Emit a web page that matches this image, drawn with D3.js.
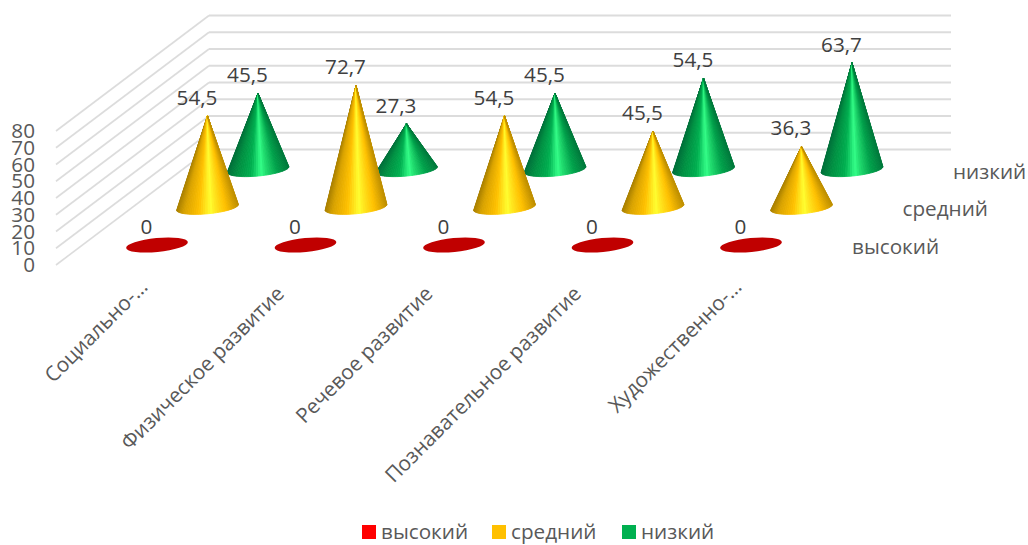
<!DOCTYPE html>
<html>
<head>
<meta charset="utf-8">
<script src="https://cdn.jsdelivr.net/npm/d3@7"></script>
<style>
  html, body { margin: 0; padding: 0; background: #fff; }
  text { font-family: "Open Sans", sans-serif; }
</style>
</head>
<body>
<div id="chart"></div>
<script>
var categories = ["Социально-…", "Физическое развитие", "Речевое развитие", "Познавательное развитие", "Художественно-…"];
var seriesNames = ["высокий", "средний", "низкий"];
var vysokiy = [0, 0, 0, 0, 0];
var sredniy = [54.5, 72.7, 54.5, 45.5, 36.3];
var nizkiy = [45.5, 27.3, 45.5, 54.5, 63.7];
var valueTicks = [0, 10, 20, 30, 40, 50, 60, 70, 80];
var legendColors = ["#ff0000", "#ffc000", "#00b050"];

var width = 1028, height = 545, fontSize = "20.7px";

var svg = d3.select("#chart").append("svg")
    .attr("width", width)
    .attr("height", height)
    .style("display", "block");

// category position along the floor (front row, red discs)
var x = d3.scalePoint().domain(categories).range([157, 751]);
// value goes straight up the screen
var y = d3.scaleLinear().domain([0, 80]).range([0, -134]);
// depth of each series on the floor
var depthX = d3.scalePoint().domain(seriesNames).range([0, 101]);
var depthY = d3.scalePoint().domain(seriesNames).range([245, 169.5]);

// colours across a cone, 0 = left edge, 1 = right edge
var shade = {
  "средний": d3.scaleLinear().domain([0, .12, .35, .55, .62, .8, 1])
    .range(["#a98000", "#d9a300", "#ffc000", "#ffff30", "#ffe820", "#ffc000", "#c09000"]),
  "низкий": d3.scaleLinear().domain([0, .15, .38, .55, .62, .82, 1])
    .range(["#00703a", "#008f42", "#00b050", "#33ff88", "#22e070", "#00a04a", "#007a3c"])
};

var grid = svg.append("g").attr("stroke", "#dcdcdc").attr("fill", "none");
grid.selectAll(".side").data(valueTicks).enter().append("line")
    .attr("stroke-width", 1.6)
    .attr("x1", 56).attr("x2", 209)
    .attr("y1", function(d) { return 265 + y(d); })
    .attr("y2", function(d) { return 149.5 + y(d); });
grid.selectAll(".back").data(valueTicks).enter().append("line")
    .attr("stroke-width", 2)
    .attr("x1", 209).attr("x2", 951)
    .attr("y1", function(d) { return 149.5 + y(d); })
    .attr("y2", function(d) { return 149.5 + y(d); });

svg.append("g").selectAll("text").data(valueTicks).enter().append("text")
    .attr("x", 35)
    .attr("y", function(d) { return 265 + y(d); })
    .attr("dy", ".35em")
    .attr("text-anchor", "end")
    .attr("fill", "#595959")
    .style("font-size", fontSize)
    .text(function(d) { return d; });

// a cone is a fan of thin slices so the shading runs up to the apex
var rx = 31, ry = 6.5, tilt = -5.5 * Math.PI / 180, sliceCount = 40;
function basePoint(cx, cy, t) {
  var ex = rx * Math.cos(t), ey = ry * Math.sin(t);
  return [cx + ex * Math.cos(tilt) - ey * Math.sin(tilt), cy + ex * Math.sin(tilt) + ey * Math.cos(tilt)];
}

function drawCones(name, values) {
  var g = svg.append("g");
  values.forEach(function(v, i) {
    var cx = x(categories[i]) + depthX(name), cy = depthY(name);
    var apex = [cx, cy + y(v)];
    var sliceColor = function(s) { return shade[name]((1 - Math.cos(Math.PI * (s + .5) / sliceCount)) / 2); };
    g.append("g").selectAll("path").data(d3.range(sliceCount)).enter().append("path")
        .attr("d", function(s) {
          // front half of the base, left to right
          var a = basePoint(cx, cy, Math.PI - Math.PI * s / sliceCount);
          var b = basePoint(cx, cy, Math.PI - Math.PI * (s + 1) / sliceCount);
          return "M" + apex + "L" + a + "L" + b + "Z";
        })
        .attr("fill", sliceColor)
        .attr("stroke", sliceColor)
        .attr("stroke-linejoin", "round")
        .attr("stroke-width", .9);
  });
}

drawCones("низкий", nizkiy);
drawCones("средний", sredniy);

// zero values collapse to flat discs
svg.append("g").selectAll("ellipse").data(vysokiy).enter().append("ellipse")
    .attr("cx", function(d, i) { return x(categories[i]); })
    .attr("cy", depthY("высокий"))
    .attr("rx", rx)
    .attr("ry", ry + .5)
    .attr("transform", function(d, i) { return "rotate(-5.5 " + x(categories[i]) + " " + depthY("высокий") + ")"; })
    .attr("fill", "#c00000");

// data labels
function drawLabels(name, values) {
  svg.append("g").selectAll("text").data(values).enter().append("text")
      .attr("x", function(d, i) { return x(categories[i]) + depthX(name) - 10.5; })
      .attr("y", function(d) { return depthY(name) + y(d) - 11; })
      .attr("text-anchor", "middle")
      .attr("fill", "#404040")
      .style("font-size", fontSize)
      .text(function(d) { return String(d).replace(".", ","); });
}
drawLabels("высокий", vysokiy);
drawLabels("средний", sredniy);
drawLabels("низкий", nizkiy);

// series names on the depth axis
svg.append("g").selectAll("text").data(seriesNames).enter().append("text")
    .attr("x", function(d) { return 852 + depthX(d); })
    .attr("y", function(d) { return depthY(d) + 2; })
    .attr("dy", ".35em")
    .attr("fill", "#595959")
    .style("font-size", fontSize)
    .text(function(d) { return d; });

// category labels, turned 45 degrees; the cut-off ones sit closer to the axis
function isCut(d) { return d.slice(-1) == "…"; }
svg.append("g").selectAll("text").data(categories).enter().append("text")
    .attr("transform", function(d) {
      return "translate(" + (x(d) - (isCut(d) ? 8 : 20)) + "," + (isCut(d) ? 288 : 295) + ") rotate(-45)";
    })
    .attr("text-anchor", "end")
    .attr("fill", "#595959")
    .style("font-size", fontSize)
    .text(function(d) { return d; });

// legend
var legendX = d3.scalePoint().domain(seriesNames).range([362, 622]);
var legend = svg.append("g").selectAll("g").data(seriesNames).enter().append("g")
    .attr("transform", function(d) { return "translate(" + legendX(d) + ",525)"; });
legend.append("rect")
    .attr("width", 14).attr("height", 14)
    .attr("fill", function(d, i) { return legendColors[i]; });
legend.append("text")
    .attr("x", 19).attr("y", 13.5)
    .attr("fill", "#595959")
    .style("font-size", fontSize)
    .text(function(d) { return d; });
</script>
</body>
</html>
